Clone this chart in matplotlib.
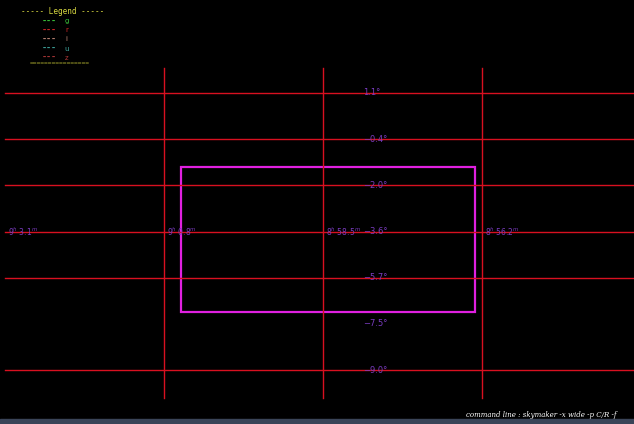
import matplotlib.pyplot as plt
from matplotlib.patches import Rectangle

# grid values (RA minutes past 9h, Dec degrees)
ra_grid = [3.1, 0.8, -1.5, -3.8]
ra_labels = [r"9$^{h}$ 3.1$^{m}$", r"9$^{h}$ 0.8$^{m}$", r"8$^{h}$ 58.5$^{m}$", r"8$^{h}$ 56.2$^{m}$"]
dec_grid = [1.1, -0.4, -1.9, -3.4, -4.9, -6.4, -7.9]
dec_labels = ["1.1°", "\u22120.4°", "\u22122.0°", "\u22123.6°", "\u22125.7°", "\u22127.5°", "\u22129.0°"]
dec_drawn = [True, True, True, True, True, False, True]

# survey field box: RA min, RA max, Dec min, Dec max
field_ra = [-3.70, 0.55]
field_dec = [-6.01, -1.30]

legend_bands = ["g", "r", "i", "u", "z"]
legend_colors = ["#3cc83c", "#d42828", "#c08878", "#40a8a0", "#b03838"]

fig = plt.figure(figsize=(6.34, 4.24), dpi=100, facecolor="black")
ax = fig.add_axes([0, 0, 1, 1])
ax.set_facecolor("black")
ax.set_xlim(3.172, -5.999)
ax.set_ylim(-9.65, 4.12)
ax.axis("off")

red = "#d81020"
# horizontal Dec lines
for d, show in zip(dec_grid, dec_drawn):
    if show:
        ax.plot([ra_grid[0], -5.999], [d, d], color=red, lw=1.0)
# vertical RA lines
for r in ra_grid[1:]:
    ax.plot([r, r], [1.91, -8.80], color=red, lw=1.0)

# RA labels along the middle Dec line
for r, lab in zip(ra_grid, ra_labels):
    ax.text(r - 0.04, dec_grid[3], lab, color="#7a3cc0", fontsize=5.5,
            ha="left", va="center")
# Dec labels down the middle
for d, lab in zip(dec_grid, dec_labels):
    ax.text(-2.08, d, lab, color="#7a3cc0", fontsize=6, ha="left", va="center")

# field outline
ax.add_patch(Rectangle((field_ra[1], field_dec[0]), field_ra[0] - field_ra[1],
                       field_dec[1] - field_dec[0], fill=False,
                       edgecolor="#e020e0", lw=1.6))

# legend block (top-left)
fig.text(0.098, 0.972, "----- Legend -----", color="#d8d840", fontsize=5.5,
         ha="center", va="center", family="DejaVu Sans Mono")
for i, (b, c) in enumerate(zip(legend_bands, legend_colors)):
    yy = 0.950 - i * 0.0215
    fig.text(0.077, yy, "---", color=c, fontsize=6, ha="center", va="center",
             family="DejaVu Sans Mono", weight="bold")
    fig.text(0.105, yy, b, color=c, fontsize=5, ha="center", va="center")
fig.text(0.095, 0.850, "================", color="#b0b030", fontsize=4.5,
         ha="center", va="center", family="DejaVu Sans Mono")

# command line note and bottom strip
fig.text(0.735, 0.022, "command line : skymaker -x wide -p C/R -f",
         color="white", fontsize=5, style="italic", family="DejaVu Serif",
         ha="left", va="center")
fig.add_artist(Rectangle((0, 0), 1, 0.012, transform=fig.transFigure,
                         color="#3a4458"))

fig.savefig("out.png", dpi=100, facecolor="black")
